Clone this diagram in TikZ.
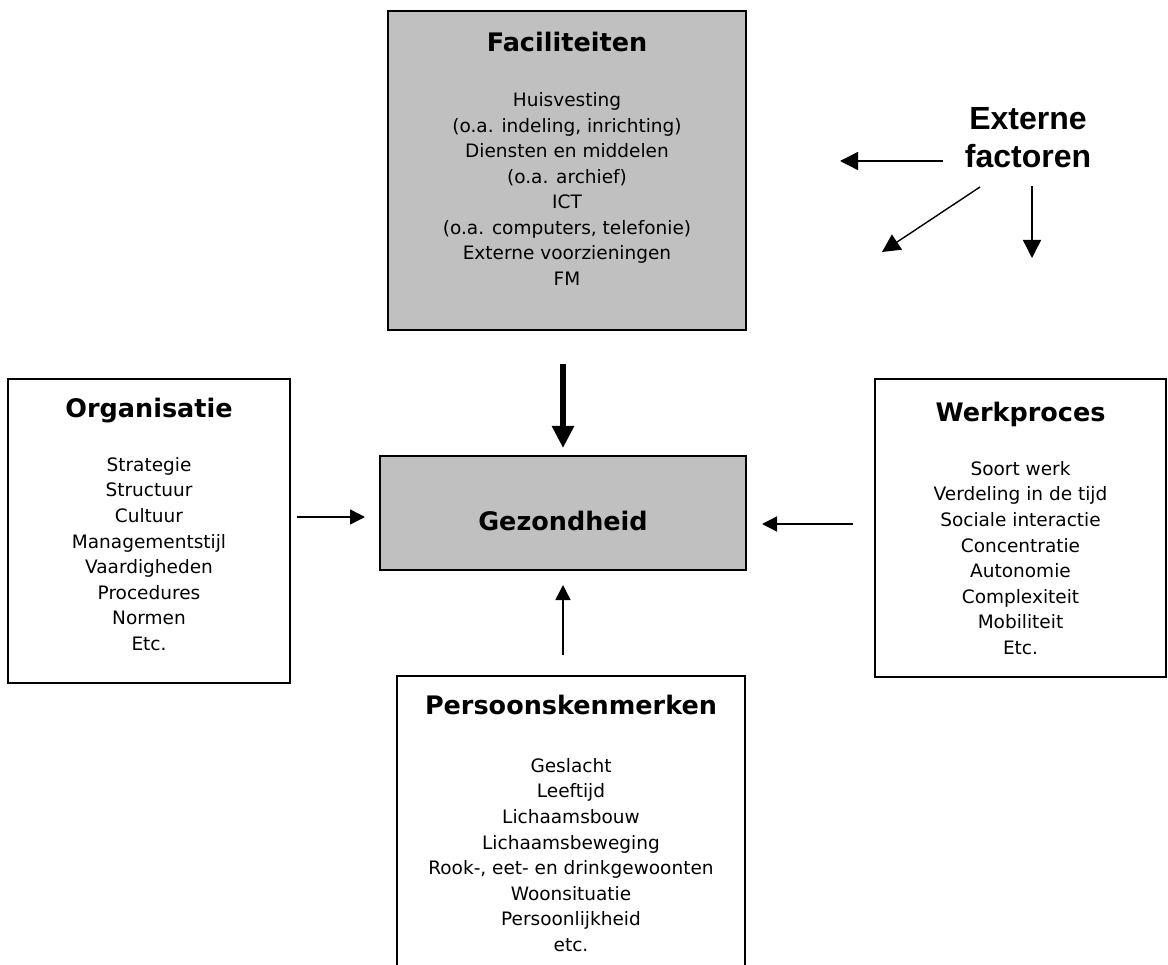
\documentclass[tikz,border=0pt]{standalone}
\usepackage{fontspec}
\setmainfont{DejaVu Sans}
\newfontfamily\arialfont{Liberation Sans}
\usetikzlibrary{arrows.meta}
\definecolor{boxgrey}{RGB}{192,192,192}
\begin{document}
\begin{tikzpicture}[x=1pt,y=-1pt,
  box/.style={draw=black, line width=1.6pt, rectangle, inner sep=0pt},
  greybox/.style={box, fill=boxgrey},
  heading/.style={font=\fontsize{25.5}{30}\selectfont\bfseries, anchor=base, inner sep=0pt},
  items/.style={font=\fontsize{18.5}{25.57}\selectfont, align=center, anchor=center, inner sep=0pt},
  smallarrow/.style={line width=1.4pt, -{Triangle[length=15pt,width=15pt]}},
  extarrow/.style={line width=1.4pt, -{Triangle[length=18pt,width=18pt]}},
  bigarrow/.style={line width=6.5pt, -{Triangle[length=22pt,width=21pt]}}]
\clip (0,0) rectangle (1168,965);
\fill[white] (0,0) rectangle (1168,965);

% boxes
\node[greybox, minimum width=358pt, minimum height=319pt] (fac) at (567,170.5) {};
\node[greybox, minimum width=366pt, minimum height=114pt] (gez) at (563,513) {};
\node[box, minimum width=282pt, minimum height=304pt] (org) at (149,531) {};
\node[box, minimum width=291pt, minimum height=298pt] (wrk) at (1020.5,528) {};
\node[box, minimum width=348pt, minimum height=320pt] (pers) at (571,836) {};

% headings
\node[heading] (facT) at (567,51.5) {Faciliteiten};
\node[heading] (gezT) at (563,530) {Gezondheid};
\node[heading] (orgT) at (149,417.5) {Organisatie};
\node[heading] (wrkT) at (1020.5,421.5) {Werkproces};
\node[heading] (persT) at (571,714.5) {Persoonskenmerken};

% lists
\node[items] (facL) at (567,189) {Huisvesting\\(o.a. indeling, inrichting)\\Diensten en middelen\\(o.a. archief)\\ICT\\(o.a. computers, telefonie)\\Externe voorzieningen\\FM};
\node[items] (orgL) at (149,554) {Strategie\\Structuur\\Cultuur\\Managementstijl\\Vaardigheden\\Procedures\\Normen\\Etc.};
\node[items] (wrkL) at (1020.5,558) {Soort werk\\Verdeling in de tijd\\Sociale interactie\\Concentratie\\Autonomie\\Complexiteit\\Mobiliteit\\Etc.};
\node[items] (persL) at (571,855) {Geslacht\\Leeftijd\\Lichaamsbouw\\Lichaamsbeweging\\Rook-, eet- en drinkgewoonten\\Woonsituatie\\Persoonlijkheid\\etc.};

% external factors
\node[font=\arialfont\fontsize{32}{38}\selectfont\bfseries, align=center, inner sep=0pt] (ext) at (1028,138) {Externe\\factoren};

% arrow end points
\coordinate (facOut) at (563,364);
\coordinate (gezTop) at (563,448);
\coordinate (orgOut) at (297,517);
\coordinate (gezLeft) at (365,517);
\coordinate (wrkOut) at (853,524);
\coordinate (gezRight) at (762,524);
\coordinate (persOut) at (563,655);
\coordinate (gezBottom) at (563,585);
\coordinate (extW) at (943,161);
\coordinate (extWtip) at (840,161);
\coordinate (extSW) at (980,187);
\coordinate (extSWtip) at (882,252);
\coordinate (extS) at (1032,186);
\coordinate (extStip) at (1032,258);

% connectors
\draw[bigarrow] (facOut) -- (gezTop);
\draw[smallarrow] (orgOut) -- (gezLeft);
\draw[smallarrow] (wrkOut) -- (gezRight);
\draw[smallarrow] (persOut) -- (gezBottom);
\draw[extarrow] (extW) -- (extWtip);
\draw[extarrow] (extSW) -- (extSWtip);
\draw[extarrow] (extS) -- (extStip);
\end{tikzpicture}
\end{document}
